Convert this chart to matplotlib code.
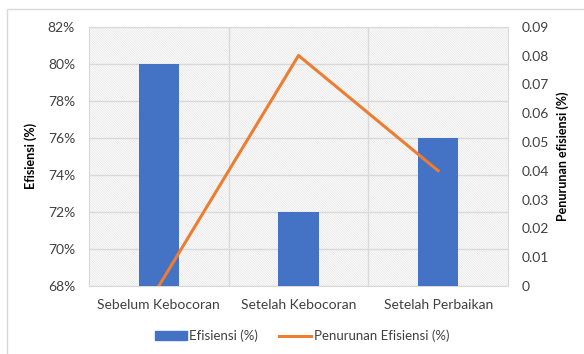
import matplotlib.pyplot as plt
from matplotlib.patches import Rectangle
from matplotlib.ticker import PercentFormatter
from matplotlib.lines import Line2D

plt.rcParams['font.family'] = ['Lato', 'DejaVu Sans']
plt.rcParams['hatch.color'] = '#e2e2e2'
plt.rcParams['hatch.linewidth'] = 0.5

kondisi = ['Sebelum Kebocoran', 'Setelah Kebocoran', 'Setelah Perbaikan']
efisiensi = [80, 72, 76]
penurunan = [0, 0.08, 0.04]

grid_col = '#d9d9d9'
text_col = '#404040'

fig = plt.figure(figsize=(5.84, 3.54), dpi=100)
ax = fig.add_axes([0.1524, 0.192, 0.7175, 0.7326])

# hatched plot background
ax.add_patch(Rectangle((0, 0), 1, 1, transform=ax.transAxes, facecolor='white',
                       edgecolor='#e2e2e2', hatch='\\' * 14, lw=0, zorder=0))

x = range(len(kondisi))
ax.bar(x, [v - 68 for v in efisiensi], bottom=68, width=0.29, color='#4472C4', zorder=3)
ax.set_xlim(-0.5, 2.5)
ax.set_ylim(68, 82)
ax.set_yticks(range(68, 83, 2))
ax.yaxis.set_major_formatter(PercentFormatter(decimals=0))
ax.set_xticks(list(x))
ax.set_xticklabels(kondisi)
for xv in [0.5, 1.5]:
    ax.axvline(xv, color=grid_col, lw=1, zorder=1)
ax.yaxis.grid(True, color=grid_col, lw=1, zorder=1)
ax.set_axisbelow(True)
for s in ax.spines.values():
    s.set_color(grid_col)
ax.tick_params(length=0, labelsize=10, colors=text_col, pad=10)
ax.tick_params(axis='x', pad=9)
ax.set_ylabel('Efisiensi (%)', fontsize=9, fontweight='bold', color='black', labelpad=8)

ax2 = ax.twinx()
ax2.plot(list(x), penurunan, color='#ED7D31', lw=2.2, zorder=4)
ax2.set_ylim(0, 0.09)
ax2.set_yticks([i / 100 for i in range(10)])
ax2.set_yticklabels(['0'] + ['%.2f' % (i / 100) for i in range(1, 10)])
for s in ax2.spines.values():
    s.set_visible(False)
ax2.tick_params(length=0, labelsize=10, colors=text_col, pad=10)
ax2.set_ylabel('Penurunan efisiensi (%)', fontsize=9, fontweight='bold', color='black', labelpad=5)

handles = [Rectangle((0, 0), 1, 1, color='#4472C4'),
           Line2D([0], [0], color='#ED7D31', lw=2.2)]
fig.legend(handles, ['Efisiensi (%)', 'Penurunan Efisiensi (%)'], loc='center',
           bbox_to_anchor=(302 / 584, 1 - 336 / 354), ncol=2, frameon=False, fontsize=9.5,
           handlelength=2.4, handleheight=0.6, columnspacing=1.6, handletextpad=0.2,
           labelcolor=text_col)

# chart area frame
fig.add_artist(Rectangle((7 / 584, -0.1), 1.1, 1 - 9 / 354 + 0.1, transform=fig.transFigure,
                         fill=False, edgecolor=grid_col, lw=1))

fig.savefig('out.png', dpi=100)
